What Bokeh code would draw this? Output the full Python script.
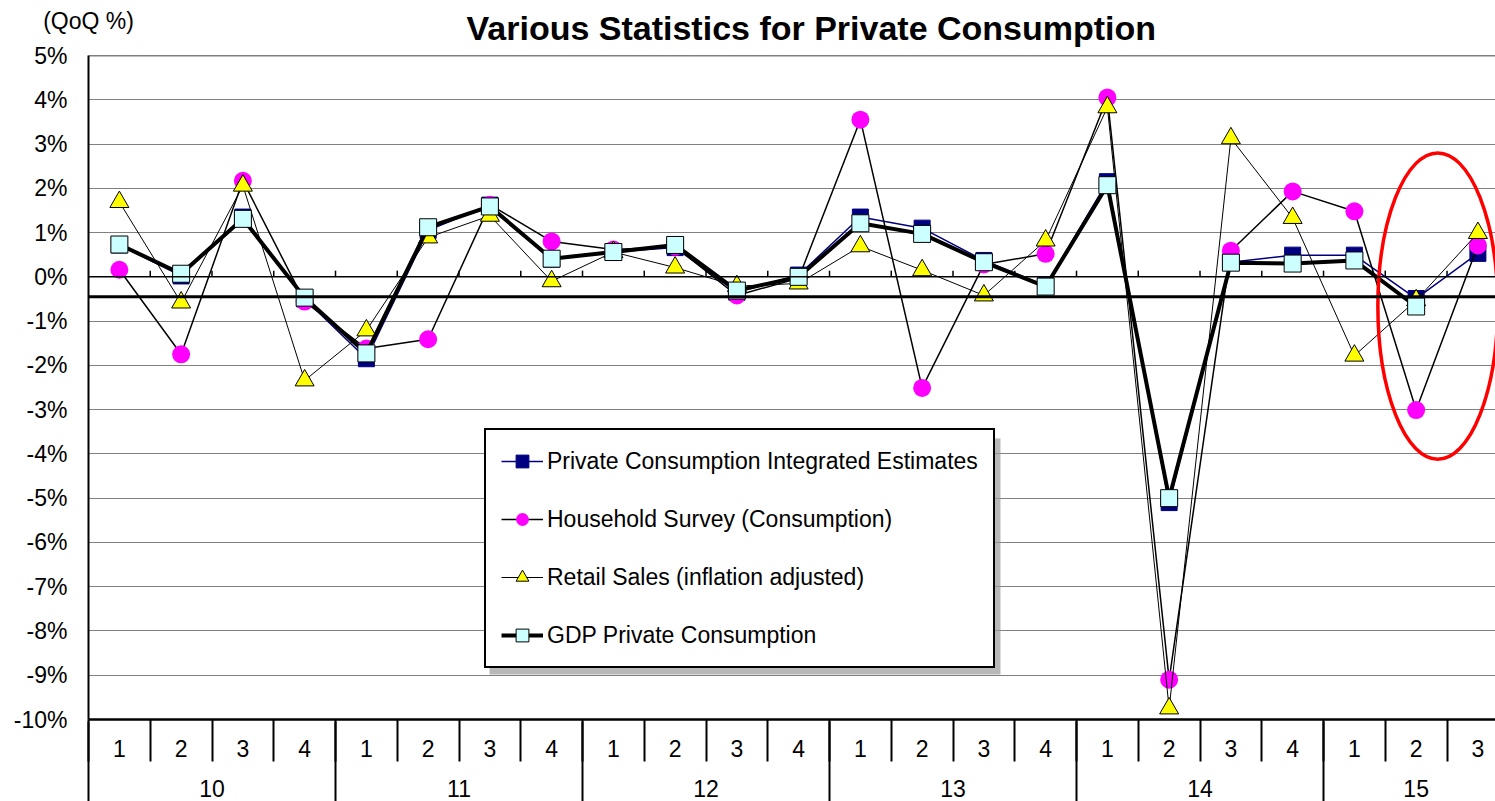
import math
from bokeh.plotting import figure
from bokeh.models import (Range1d, FixedTicker, LinearAxis, Span, Legend, LegendItem,
                          Title, PrintfTickFormatter, BoxAnnotation)
from bokeh.embed import file_html
from bokeh.resources import INLINE

FONT = "Liberation Sans"

# ---------------- data ----------------
year_labels = ["10", "11", "12", "13", "14", "15"]
quarters_per_year = [4, 4, 4, 4, 4, 3]
quarter_labels = [str(q) for n in quarters_per_year for q in range(1, n + 1)]

integrated = [0.72, 0.02, 1.35, -0.50, -1.85, 1.05, 1.62, 0.40, 0.56, 0.66, -0.35, 0.04,
              1.35, 1.10, 0.37, -0.20, 2.15, -5.10, 0.33, 0.49, 0.49, -0.49, 0.53]
household = [0.16, -1.75, 2.17, -0.56, -1.62, -1.41, 1.63, 0.80, 0.62, 0.68, -0.42, -0.03,
             3.55, -2.51, 0.28, 0.52, 4.05, -9.10, 0.59, 1.93, 1.48, -3.01, 0.71]
retail = [1.69, -0.58, 2.06, -2.34, -1.21, 0.89, 1.38, -0.10, 0.56, 0.21, -0.21, -0.15,
          0.69, 0.15, -0.42, 0.82, 3.83, -9.75, 3.13, 1.33, -1.78, -0.53, 0.99]
gdp = [0.73, 0.07, 1.31, -0.47, -1.73, 1.12, 1.59, 0.41, 0.56, 0.72, -0.31, 0.00,
       1.21, 0.97, 0.33, -0.22, 2.07, -5.00, 0.32, 0.30, 0.37, -0.67, float("nan")]

series_names = ["Private Consumption Integrated Estimates", "Household Survey (Consumption)",
                "Retail Sales (inflation adjusted)", "GDP Private Consumption"]
title_text = "Various Statistics for Private Consumption"
unit_text = "(QoQ %)"
reference_level = -0.45          # thick horizontal reference line
y_ticks = list(range(-10, 6))
x_start, x_end = 0.5, 23.285

# highlight ellipse around 15Q2-15Q3 (annotation)
hl_x, hl_y, hl_w, hl_h = 22.35, -0.66, 1.94, 6.93

# ---------------- derived positions ----------------
n = len(quarter_labels)
xs = list(range(1, n + 1))
bounds = [i + 0.5 for i in range(0, n)]
year_starts, year_centers = [], []
pos = 1
for cnt in quarters_per_year:
    year_starts.append(pos - 0.5)
    year_centers.append(pos + (cnt - 1) / 2)
    pos += cnt

# ---------------- figure ----------------
p = figure(width=1495, height=801, output_backend="svg", toolbar_location=None,
           x_range=Range1d(x_start, x_end), y_range=Range1d(-10, 5),
           min_border_left=88, min_border_right=0, min_border_top=55, min_border_bottom=82,
           outline_line_color=None, background_fill_color="white", border_fill_color="white")
p.title = None

xa = p.below[0]     # default x axis (quarters)
ya = p.left[0]      # default y axis

main_title = Title(text=title_text, text_font=FONT, text_font_size="34px",
                   text_font_style="bold", text_color="black",
                   align="left", offset=378, standoff=13, vertical_align="top")
p.add_layout(main_title, "above")

# unit text as the label of a top axis sitting in the same row as the title
qa = LinearAxis(ticker=FixedTicker(ticks=[x_start], minor_ticks=[]))
qa.major_label_overrides = {x_start: unit_text}
qa.axis_line_color = None
qa.major_tick_in = 0
qa.major_tick_out = 0
qa.minor_tick_line_color = None
qa.major_label_standoff = -31
qa.major_label_text_font = FONT
qa.major_label_text_font_size = "23px"
qa.major_label_text_color = "black"
p.add_layout(qa, "above")

# grid
p.xgrid.visible = False
p.ygrid.ticker = FixedTicker(ticks=y_ticks)
p.ygrid.grid_line_color = "#808080"
p.ygrid.grid_line_width = 1

# y axis
ya.ticker = FixedTicker(ticks=y_ticks)
ya.formatter = PrintfTickFormatter(format="%d%%")
ya.axis_line_color = "black"
ya.axis_line_width = 2
ya.major_tick_in = 0
ya.major_tick_out = 0
ya.minor_tick_line_color = None
ya.major_label_standoff = 21
ya.major_label_text_font = FONT
ya.major_label_text_font_size = "23px"
ya.major_label_text_color = "black"

# x axis (quarters)
xa.ticker = FixedTicker(ticks=xs, minor_ticks=bounds)
xa.major_label_overrides = {x: q for x, q in zip(xs, quarter_labels)}
xa.axis_line_color = "black"
xa.axis_line_width = 2.5
xa.major_tick_in = 0
xa.major_tick_out = 0
xa.minor_tick_in = 0
xa.minor_tick_out = 42
xa.minor_tick_line_color = "black"
xa.minor_tick_line_width = 2
xa.major_label_standoff = -22
xa.major_label_text_font = FONT
xa.major_label_text_font_size = "23px"
xa.major_label_text_color = "black"

# x axis (years)
xb = LinearAxis(ticker=FixedTicker(ticks=year_centers, minor_ticks=year_starts))
xb.major_label_overrides = {x: y for x, y in zip(year_centers, year_labels)}
xb.axis_line_color = None
xb.major_tick_in = 0
xb.major_tick_out = 0
xb.minor_tick_in = 38
xb.minor_tick_out = 42
xb.minor_tick_line_color = "black"
xb.minor_tick_line_width = 2
xb.major_label_standoff = -22
xb.major_label_text_font = FONT
xb.major_label_text_font_size = "23px"
xb.major_label_text_color = "black"
p.add_layout(xb, "below")

# frame top line, zero line, reference line
p.add_layout(Span(location=5, dimension="width", line_color="black", line_width=1.5))
p.add_layout(Span(location=0, dimension="width", line_color="black", line_width=1.5))
p.segment(x0=bounds[1:], y0=[0] * (n - 1), x1=bounds[1:], y1=[0.14] * (n - 1),
          line_color="black", line_width=1.5)
p.add_layout(Span(location=reference_level, dimension="width", line_color="black", line_width=3))

# series
r1l = p.line(xs, integrated, line_color="#000080", line_width=1.5)
r1m = p.scatter(xs, integrated, marker="square", size=16, fill_color="#000080", line_color="#000080")
r2l = p.line(xs, household, line_color="black", line_width=1.5)
r2m = p.scatter(xs, household, marker="circle", size=18, fill_color="#FF00FF", line_color=None)
r3l = p.line(xs, retail, line_color="black", line_width=1)
r3m = p.scatter(xs, retail, marker="triangle", size=19, fill_color="#FFFF00", line_color="black", line_width=1)
r4l = p.line(xs, gdp, line_color="black", line_width=4)
r4m = p.scatter(xs, gdp, marker="square", size=17, fill_color="#CCFFFF", line_color="black", line_width=1)

# highlight ellipse
p.ellipse(x=hl_x, y=hl_y, width=hl_w, height=hl_h, fill_color=None, line_color="#FF0000", line_width=3.5)

# legend shadow + legend
p.add_layout(BoxAnnotation(left=401, right=912, bottom=45, top=281,
                           left_units="screen", right_units="screen",
                           bottom_units="screen", top_units="screen",
                           fill_color="#9a9a9a", fill_alpha=0.7, line_color=None))

legend = Legend(items=[
    LegendItem(label=series_names[0], renderers=[r1l, r1m]),
    LegendItem(label=series_names[1], renderers=[r2l, r2m]),
    LegendItem(label=series_names[2], renderers=[r3l, r3m]),
    LegendItem(label=series_names[3], renderers=[r4l, r4m]),
], location=(396, 51))
legend.label_text_font = FONT
legend.label_text_font_size = "23px"
legend.label_text_color = "black"
legend.glyph_width = 42
legend.glyph_height = 32
legend.label_height = 32
legend.spacing = 26
legend.padding = 15
legend.margin = 0
legend.label_standoff = 4
legend.border_line_color = "black"
legend.border_line_alpha = 1
legend.border_line_width = 2
legend.background_fill_color = "white"
legend.background_fill_alpha = 1
p.add_layout(legend)

open("out.html", "w").write(file_html(p, INLINE))
